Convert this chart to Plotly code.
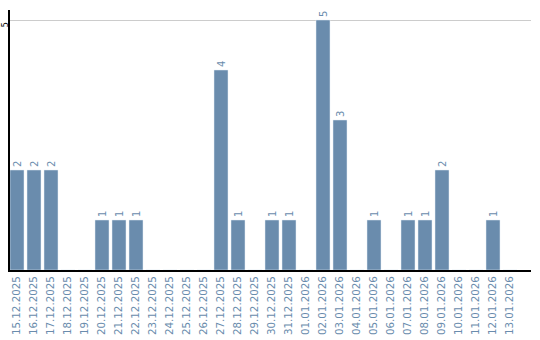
import plotly.graph_objects as go

dates = ["15.12.2025","16.12.2025","17.12.2025","18.12.2025","19.12.2025","20.12.2025",
         "21.12.2025","22.12.2025","23.12.2025","24.12.2025","25.12.2025","26.12.2025",
         "27.12.2025","28.12.2025","29.12.2025","30.12.2025","31.12.2025","01.01.2026",
         "02.01.2026","03.01.2026","04.01.2026","05.01.2026","06.01.2026","07.01.2026",
         "08.01.2026","09.01.2026","10.01.2026","11.01.2026","12.01.2026","13.01.2026"]
values = [2,2,2,0,0,1,1,1,0,0,0,0,4,1,0,1,1,0,5,3,0,1,0,1,1,2,0,0,1,0]

bar_color = "#6a8cad"
positions = list(range(len(dates)))
labels = [str(v) if v > 0 else "" for v in values]

fig = go.Figure(go.Bar(
    x=positions, y=values, marker_color=bar_color, width=0.8235,
    text=labels, textposition="outside", textangle=-90,
    textfont=dict(family="DejaVu Sans", size=10, color=bar_color),
    cliponaxis=False,
))
fig.update_layout(
    width=540, height=340, margin=dict(l=10, r=9, t=10, b=70),
    paper_bgcolor="white", plot_bgcolor="white", showlegend=False,
    uniformtext=dict(mode=False),
)
fig.update_xaxes(
    range=[-0.4118, 30.235], tickmode="array", tickvals=positions, ticktext=dates,
    tickangle=-90, tickfont=dict(family="DejaVu Sans", size=10.3, color=bar_color),
    showline=True, linecolor="black", linewidth=2, showgrid=False, ticks="", zeroline=False,
    automargin=False,
)
fig.update_yaxes(
    range=[0, 5.2], tickmode="array", tickvals=[5], ticktext=["5"], tickangle=-90,
    tickfont=dict(family="DejaVu Sans", size=8, color="black"),
    showline=True, linecolor="black", linewidth=2, showgrid=True, gridcolor="#cccccc",
    zeroline=False, ticks="", automargin=False, ticklabelstandoff=-3, ticklabelshift=6,
)
fig.write_html("out.html")
